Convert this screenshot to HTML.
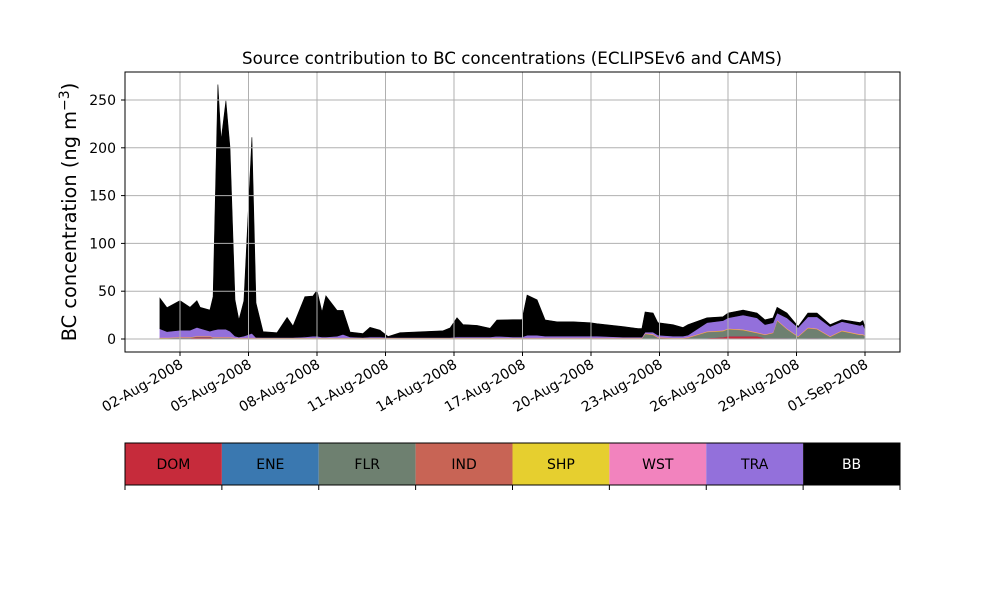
<!DOCTYPE html>
<html><head><meta charset="utf-8"><style>
body{margin:0;background:#fff}
svg{display:block;font-family:"DejaVu Sans","Liberation Sans",sans-serif}
</style></head><body>
<svg id="chart" width="1000" height="600" viewBox="0 0 1000 600">
<rect width="1000" height="600" fill="#fff"/>
<text x="512" y="64" font-size="16.7" text-anchor="middle">Source contribution to BC concentrations (ECLIPSEv6 and CAMS)</text>
<text transform="translate(76,212) rotate(-90)" font-size="19.4" text-anchor="middle">BC concentration (ng m<tspan dy="-7" font-size="14">−3</tspan><tspan dy="7">)</tspan></text>
<g id="areas"></g>
<g id="grid"></g>
<rect x="125" y="72" width="775" height="280" fill="none" stroke="#000" stroke-width="1"/>
<g id="ticks"></g>
<g id="legend"></g>
</svg>
<script>
const days=[1.12,1.43,2.0,2.44,2.74,2.88,3.31,3.45,3.66,3.80, 4.01,4.19,4.41,4.58,4.80,5.15,5.33,5.64,6.25,6.69, 6.95,7.47,7.82,8.0,8.22,8.39,8.88,9.14,9.45,10.01, 10.32,10.76,11.11,11.64,13.52,13.83,14.13,14.39,15.01,15.58, 15.88,16.58,16.98,17.20,17.64,17.99,18.51,19.21,19.96,20.26, 21.40,22.06,22.23,22.37,22.72,22.93,23.59,24.03,24.25,25.08, 25.78,26.0,26.66,27.27,27.62,27.97,28.15,28.58,29.07,29.50, 29.90,30.47,30.99,31.78,31.91,32.0];
const DOM=[0.5,0.5,1,1,2,2,2,1,1,1, 1,1,0.3,0.3,0.3,0.3,0.3,0.2,0.2,0.2, 0.2,0.2,0.2,0.2,0.2,0.2,0.2,0.2,0.2,0.2, 0.2,0.2,0.2,0.2,0.2,0.2,0.2,0.2,0.2,0.2, 0.2,0.2,0.2,0.2,0.2,0.2,0.2,0.2,0.2,0.2, 0.2,0.2,0.2,0.3,0.3,0.3,0.2,0.2,0.2,1, 2,3,3,3,1,1,1,1,0.5,1, 1,0.5,0.5,0.5,0.5,0.5];
const ENE=[0.2,0.2,0.2,0.2,0.2,0.2,0.2,0.2,0.2,0.2, 0.2,0.2,0.2,0.2,0.2,0.2,0.2,0.2,0.2,0.2, 0.2,0.2,0.2,0.2,0.2,0.2,0.2,0.2,0.2,0.2, 0.2,0.2,0.2,0.2,0.2,0.2,0.2,0.2,0.2,0.2, 0.2,0.2,0.2,0.2,0.2,0.2,0.2,0.2,0.2,0.2, 0.2,0.2,0.2,0.2,0.2,0.2,0.2,0.2,0.2,0.2, 0.2,0.2,0.2,0.2,0.2,0.2,0.2,0.2,0.2,0.2, 0.2,0.2,0.2,0.2,0.2,0.2];
const FLR=[0.2,0.2,0.2,0.2,0.2,0.2,0.2,0.2,0.2,0.2, 0.2,0.2,0.2,0.2,0.2,0.2,0.2,0.2,0.2,0.2, 0.2,0.2,0.2,0.2,0.2,0.2,0.2,0.2,0.2,0.2, 0.2,0.2,0.2,0.2,0.2,0.2,0.2,0.2,0.2,0.2, 0.2,0.2,0.2,0.3,0.3,0.3,0.3,0.3,0.3,0.3, 0.3,0.3,0.3,4.7,3.7,0.7,0.2,0.2,0.8,6, 6,7,6,3,3,5,18,9,1.5,10, 9,1.5,7.5,3.5,3.5,2.5];
const IND=[0.3,0.3,0.3,0.3,0.3,0.3,0.3,0.3,0.3,0.3, 0.3,0.3,0.3,0.3,0.3,0.3,0.3,0.3,0.3,0.3, 0.3,0.3,0.3,0.3,0.3,0.3,0.3,0.3,0.3,0.3, 0.3,0.3,0.3,0.3,0.3,0.3,0.3,0.3,0.3,0.3, 0.3,0.3,0.3,0.3,0.3,0.3,0.3,0.3,0.3,0.3, 0.3,0.3,0.3,0.3,0.3,0.3,0.3,0.3,0.3,0.3, 0.3,0.3,0.3,0.3,0.3,0.3,0.3,0.3,0.3,0.3, 0.3,0.3,0.3,0.3,0.3,0.3];
const SHP=[0.2,0.2,0.2,0.2,0.2,0.2,0.2,0.2,0.2,0.2, 0.2,0.2,0.2,0.2,0.2,0.2,0.2,0.2,0.2,0.2, 0.2,0.2,0.2,0.2,0.2,0.2,0.2,0.2,0.2,0.2, 0.2,0.2,0.2,0.2,0.2,0.2,0.2,0.2,0.2,0.2, 0.2,0.2,0.2,0.2,0.2,0.2,0.2,0.2,0.2,0.2, 0.2,0.2,0.2,0.4,0.4,0.3,0.2,0.2,0.3,0.4, 0.4,0.4,0.4,0.4,0.3,0.3,0.4,0.4,0.3,0.4, 0.4,0.3,0.4,0.4,0.4,0.3];
const WST=[0.3,0.3,0.3,0.3,0.3,0.3,0.3,0.3,0.3,0.3, 0.3,0.3,0.3,0.3,0.3,0.3,0.3,0.3,0.3,0.3, 0.3,0.3,0.3,0.3,0.3,0.3,0.3,0.3,0.3,0.3, 0.3,0.3,0.3,0.3,0.3,0.3,0.3,0.3,0.3,0.3, 0.3,0.3,0.3,0.3,0.3,0.3,0.3,0.3,0.3,0.3, 0.3,0.3,0.3,0.3,0.3,0.3,0.3,0.3,0.3,0.3, 0.3,0.3,0.3,0.3,0.3,0.3,0.3,0.3,0.3,0.3, 0.3,0.3,0.3,0.3,0.3,0.3];
const TRA=[9,6,7,7,9,8,5,7,8,8, 8,6,1.5,0.5,1.5,4.5,0.2,0.2,0.2,0.2, 0.2,0.8,1.5,1.5,0.8,0.8,1.5,3.5,0.8,0.2, 0.8,0.8,0.2,0.2,0.2,0.2,0.8,0.8,0.8,0.8, 1.5,0.8,0.8,2.5,2.5,1.5,1.5,1.5,1.5,1.5, 0.5,0.5,0.5,1,2,2,1.6,1.6,2,9, 10,11,15,15,10,10,7,11,9,11, 12,10,9,9,10,6];
const BB=[32,25,31,24,28,22,22,35,256,198, 239,192,38,18,37,205,36,6,5,21, 12,42,42,48,26,43,27,25,5,4, 10,7,1,5,7,10,20,13,12,9, 17,18,18,42,37,17,15,15,14,13, 11,9,9,21,20,13,12,9,11,5, 4,5,5,5,5,5,6,5,1,4, 4,2,2,3,4,2];
const seriesNames=["DOM","ENE","FLR","IND","SHP","WST","TRA","BB"];
const seriesData=[DOM,ENE,FLR,IND,SHP,WST,TRA,BB];
const colors=["#c62b3b","#3a78b0","#6e8070","#c86455","#e6cf2f","#f283be","#9370db","#000000"];
const yTicks=[0,50,100,150,200,250];
const xTickDays=[2,5,8,11,14,17,20,23,26,29,32];
const xTickLabels=["02-Aug-2008","05-Aug-2008","08-Aug-2008","11-Aug-2008","14-Aug-2008","17-Aug-2008","20-Aug-2008","23-Aug-2008","26-Aug-2008","29-Aug-2008","01-Sep-2008"];

const NS="http://www.w3.org/2000/svg";
const X=d=>180+(d-2)*22.833;
const Y=v=>339-v*0.956;
function mk(tag,attrs,parent){const e=document.createElementNS(NS,tag);for(const k in attrs)e.setAttribute(k,attrs[k]);parent.appendChild(e);return e;}

const areas=document.getElementById('areas');
let base=days.map(()=>0);
seriesData.forEach((s,si)=>{
  const top=base.map((b,i)=>b+s[i]);
  let d="M"+days.map((t,i)=>X(t).toFixed(1)+","+Y(top[i]).toFixed(1)).join("L");
  for(let i=days.length-1;i>=0;i--) d+="L"+X(days[i]).toFixed(1)+","+Y(base[i]).toFixed(1);
  d+="Z";
  const p=mk('path',{d:d,fill:colors[si],stroke:colors[si],'stroke-width':0.6},areas);
  
  
  base=top;
});

const grid=document.getElementById('grid'), ticks=document.getElementById('ticks');
yTicks.forEach(v=>{
  const l=mk('line',{x1:125,x2:900,y1:Y(v),y2:Y(v),stroke:'#b0b0b0','stroke-width':1},grid);
  
  
  mk('line',{x1:121,x2:125,y1:Y(v),y2:Y(v),stroke:'#000'},ticks);
  const t=mk('text',{x:116,y:Y(v)+5,'font-size':14,'text-anchor':'end'},ticks);
  t.textContent=v;
  
  
});
xTickDays.forEach((d,i)=>{
  const x=X(d);
  const l=mk('line',{x1:x,x2:x,y1:72,y2:352,stroke:'#b0b0b0','stroke-width':1},grid);
  
  
  mk('line',{x1:x,x2:x,y1:352,y2:356,stroke:'#000'},ticks);
  const t=mk('text',{transform:`translate(${x+4},${367}) rotate(-30)`,'font-size':14,'text-anchor':'end'},ticks);
  t.textContent=xTickLabels[i];
  
  
});

const leg=document.getElementById('legend');
const w=775/8;
seriesNames.forEach((n,i)=>{
  const r=mk('rect',{x:125+i*w,y:443,width:w,height:42,fill:colors[i]},leg);
  
  
  const t=mk('text',{x:125+i*w+w/2,y:469,'font-size':14,'text-anchor':'middle',fill:n==="BB"?"#fff":"#000"},leg);
  t.textContent=n;
  
  
});
mk('rect',{x:125,y:443,width:775,height:42,fill:'none',stroke:'#000'},leg);
for(let i=0;i<=8;i++) mk('line',{x1:125+i*w,x2:125+i*w,y1:485,y2:490,stroke:'#000'},leg);
</script>
</body></html>
